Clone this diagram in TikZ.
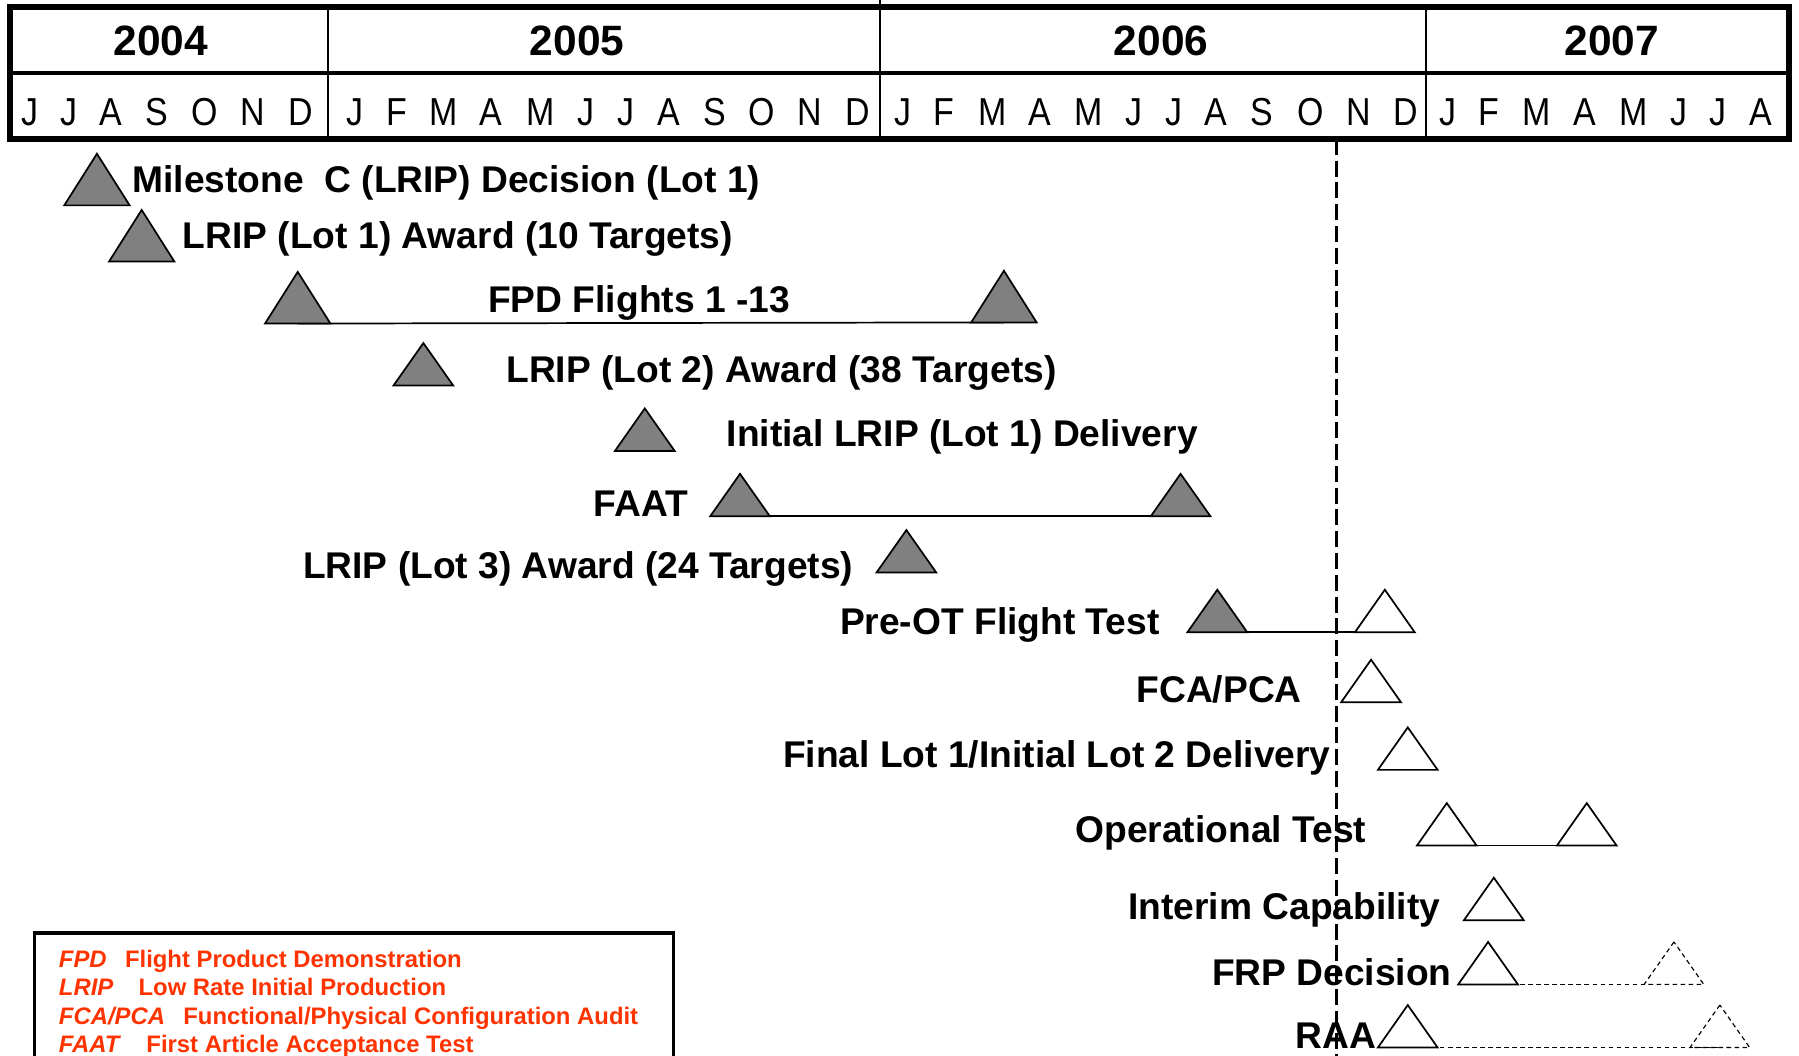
\documentclass[tikz,border=0pt]{standalone}
\usepackage{fontspec}
\setmainfont{Liberation Sans}
\newfontfamily\monthfont[FakeStretch=0.87]{Liberation Sans}
\usepackage{xcolor}
\definecolor{cFill}{HTML}{808080}
\definecolor{cLegend}{HTML}{FF3300}
\usetikzlibrary{positioning,shapes.geometric,backgrounds}
\tikzset{
  ms-base/.style={isosceles triangle,isosceles triangle stretches,
    shape border rotate=90,inner sep=0pt,outer sep=0pt,anchor=south,
    draw=black,line width=0.75pt},
  ms-big/.style={ms-base,minimum width=28.5pt,minimum height=22.5pt},
  ms-small/.style={ms-base,minimum width=26pt,minimum height=18.5pt},
  ms-done/.style={fill=cFill},
  ms-plan/.style={fill=white},
  ms-tbd/.style={dash pattern=on 2pt off 1.5pt,line width=0.5pt},
  link/.style={line width=0.75pt,draw=black},
  link-tbd/.style={line width=0.5pt,dash pattern=on 2pt off 1.5pt},
  lbl/.style={inner sep=0pt,font=\fontsize{16.2}{18}\selectfont\bfseries},
  year/.style={inner sep=0pt,anchor=base,
    font=\fontsize{18.5}{20}\selectfont\bfseries},
  month/.style={inner sep=0pt,anchor=base,
    font=\monthfont\fontsize{17}{18}\selectfont},
  legend/.style={inner sep=0pt,anchor=base west,text=cLegend,
    font=\fontsize{10.4}{12}\selectfont\bfseries},
  frame/.style={draw=black,line width=2.5pt},
  today/.style={line width=1.1pt,dash pattern=on 7pt off 2.5pt},
}

\begin{document}
\begin{tikzpicture}[x=0.5pt,y=-0.5pt]
  \clip (0,0) rectangle (1568,920);
  % calendar header
  \draw[frame] (9,6) rectangle (1559,121);
  \draw[line width=2pt] (9,63.5) -- (1559,63.5);
  \foreach \x in {286,1243} \draw[line width=0.8pt] (\x,6) -- (\x,121);
  \draw[line width=0.8pt] (767,0) -- (767,121);
  \foreach \yr/\x in {2004/140,2005/503,2006/1012,2007/1405}
    \node[year] (y\yr) at (\x,48) {\yr};
  \foreach \m/\x [count=\i] in {J/26,J/60,A/97,S/137,O/178,N/220,D/262,
      J/309,F/346,M/387,A/428,M/471,J/511,J/546,A/583,S/623,O/664,N/706,D/748,
      J/787,F/823,M/865,A/906,M/949,J/988,J/1023,A/1060,S/1100,O/1142,N/1184,
      D/1225,J/1262,F/1298,M/1339,A/1381,M/1424,J/1463,J/1497,A/1535}
    \node[month] (mo\i) at (\x,109) {\m};

  % milestones
  \node[ms-big,ms-done] (mc) at (84.5,179) {};
  \node[ms-big,ms-done] (lot1) at (123.5,228) {};
  \node[ms-big,ms-done] (fpdA) at (259.5,282) {};
  \node[ms-big,ms-done] (fpdB) at (875,281) {};
  \node[ms-small,ms-done] (lot2) at (369,336) {};
  \node[ms-small,ms-done] (del1) at (562,393) {};
  \node[ms-small,ms-done] (faatA) at (645,450) {};
  \node[ms-small,ms-done] (faatB) at (1029,450) {};
  \node[ms-small,ms-done] (lot3) at (790,499) {};
  \node[ms-small,ms-done] (preA) at (1061,551) {};
  \node[ms-small,ms-plan] (preB) at (1207,551) {};
  \node[ms-small,ms-plan] (fca) at (1195,612) {};
  \node[ms-small,ms-plan] (del2) at (1227,671) {};
  \node[ms-small,ms-plan] (otA) at (1261,737) {};
  \node[ms-small,ms-plan] (otB) at (1383,737) {};
  \node[ms-small,ms-plan] (ic) at (1302,802) {};
  \node[ms-small,ms-plan] (frpA) at (1297,858) {};
  \node[ms-small,ms-tbd] (frpB) at (1459,858) {};
  \node[ms-small,ms-plan] (raaA) at (1227,913) {};
  \node[ms-small,ms-tbd] (raaB) at (1499,913) {};

  % labels
  \node[lbl,anchor=base west] (mc-lbl) at (115,168)
    {Milestone\ \ C (LRIP) Decision (Lot 1)};
  \node[lbl,anchor=base west] (lot1-lbl) at (159,217)
    {LRIP (Lot 1) Award (10 Targets)};
  \node[lbl,anchor=base] (fpd-lbl) at (557,272) {FPD Flights 1 -13};
  \node[lbl,anchor=base west] (lot2-lbl) at (441,333)
    {LRIP (Lot 2) Award (38 Targets)};
  \node[lbl,anchor=base west] (del1-lbl) at (633,389)
    {Initial LRIP (Lot 1) Delivery};
  \node[lbl,anchor=base east] (faat-lbl) at (600,450) {FAAT};
  \node[lbl,anchor=base east] (lot3-lbl) at (744,504)
    {LRIP (Lot 3) Award (24 Targets)};
  \node[lbl,anchor=base east] (pre-lbl) at (1011,553) {Pre-OT Flight Test};
  \node[lbl,anchor=base east] (fca-lbl) at (1135,612) {FCA/PCA};
  \node[lbl,anchor=base east] (del2-lbl) at (1160,669)
    {Final Lot 1/Initial Lot 2 Delivery};
  \node[lbl,anchor=base west] (ot-lbl) at (937,734) {Operational Test};
  \node[lbl,anchor=base west] (ic-lbl) at (983,801) {Interim Capability};
  \node[lbl,anchor=base west] (frp-lbl) at (1056,859) {FRP Decision};
  \node[lbl,anchor=base west] (raa-lbl) at (1129,914) {RAA};

  % spans between start and end
  \begin{scope}[on background layer]
    \fill[white] (0,0) rectangle (1568,920);
    \draw[link] (fpdA.south) -- (fpdB.south);
    \draw[link] (faatA.south) -- (faatB.south);
    \draw[link] (preA.south) -- (preB.south);
    \draw[link] (otA.south) -- (otB.south);
    \draw[link-tbd] (frpA.south) -- (frpB.south);
    \draw[link-tbd] (raaA.south) -- (raaB.south);
  \end{scope}

  % status date
  \coordinate (now-top) at (1165,121);
  \coordinate (now-bot) at (1165,920);
  \draw[today] (now-top) -- (now-bot);

  % legend
  \draw[line width=1.5pt] (30,813) rectangle (587,940);
  \node[legend] (lg-fpd) at (51,843)
    {\textit{FPD}\hspace{8pt}Flight Product Demonstration};
  \node[legend] (lg-lrip) at (51,868)
    {\textit{LRIP}\hspace{11pt}Low Rate Initial Production};
  \node[legend] (lg-fca) at (51,893)
    {\textit{FCA/PCA}\hspace{8pt}Functional/Physical Configuration Audit};
  \node[legend] (lg-faat) at (51,917)
    {\textit{FAAT}\hspace{11pt}First Article Acceptance Test};
\end{tikzpicture}
\end{document}
